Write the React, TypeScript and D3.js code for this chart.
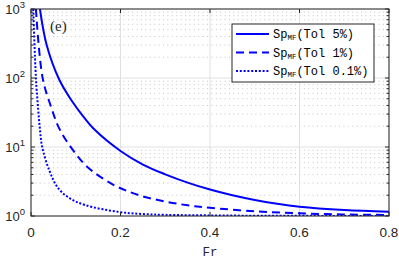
import React from 'react';
import * as d3 from 'd3';

// Fr values and Sp_MF (log axis)
const frSolid = [0.020, 0.035, 0.063, 0.091, 0.117, 0.143, 0.2, 0.25, 0.3, 0.35, 0.4, 0.45, 0.5, 0.55, 0.6, 0.7, 0.8];
const spSolid = [1000, 301, 95.1, 46.7, 27.6, 17.6, 8.76, 5.57, 4.02, 3.05, 2.42, 2.0, 1.71, 1.5, 1.36, 1.22, 1.15];

const frDashed = [0.011, 0.026, 0.046, 0.063, 0.091, 0.128, 0.188, 0.244, 0.3, 0.35, 0.4, 0.5, 0.6, 0.7, 0.8];
const spDashed = [1000, 100, 36.3, 18.6, 9.55, 5.01, 2.75, 1.98, 1.62, 1.43, 1.315, 1.17, 1.094, 1.054, 1.034];

const frDotted = [0.005, 0.011, 0.016, 0.020, 0.025, 0.042, 0.061, 0.087, 0.121, 0.194, 0.247, 0.3, 0.4, 0.5, 0.6, 0.8];
const spDotted = [1000, 100, 35.5, 18, 10, 4.39, 2.52, 1.8, 1.44, 1.15, 1.07, 1.04, 1.02, 1.01, 1.005, 1.0];

const xTicks = [0, 0.2, 0.4, 0.6, 0.8];
const yDecades = [0, 1, 2, 3];
const legendLabels = ['(Tol 5%)', '(Tol 1%)', '(Tol 0.1%)'];
const dashes = ['none', '8,5', '2,1.8'];

const W = 399;
const H = 259;
const left = 31, right = 389, top = 9, bottom = 216;
const axisColor = '#262626';
const blue = '#0000ff';
const mono = '"Liberation Mono", "DejaVu Sans Mono", monospace';
const sans = '"Liberation Sans", Arial, sans-serif';

export default function App() {
  const x = d3.scaleLinear().domain([0, 0.8]).range([left, right]);
  const y = d3.scaleLog().domain([1, 1000]).range([bottom, top]);

  const line = d3.line<[number, number]>()
    .x(d => x(d[0]))
    .y(d => y(d[1]))
    .curve(d3.curveCatmullRom.alpha(0.5));

  const series = [
    d3.zip(frSolid, spSolid) as [number, number][],
    d3.zip(frDashed, spDashed) as [number, number][],
    d3.zip(frDotted, spDotted) as [number, number][],
  ];

  const minor: number[] = [];
  for (let e = 0; e < 3; e++) {
    for (let m = 2; m <= 9; m++) minor.push(m * Math.pow(10, e));
  }

  return (
    <svg width={W} height={H} style={{ position: 'absolute', left: 0, top: 0, background: '#fff' }}>
      <defs>
        <clipPath id="plotArea">
          <rect x={left} y={top} width={right - left} height={bottom - top} />
        </clipPath>
      </defs>

      {/* minor grid (dotted) */}
      {minor.map(v => (
        <line key={'mg' + v} x1={left} x2={right} y1={y(v)} y2={y(v)}
          stroke="#c4c4c4" strokeWidth={1} strokeDasharray="1,3.4" />
      ))}
      {/* major grid */}
      {yDecades.map(e => (
        <line key={'gy' + e} x1={left} x2={right} y1={y(Math.pow(10, e))} y2={y(Math.pow(10, e))}
          stroke="#e0e0e0" strokeWidth={1} />
      ))}
      {xTicks.map(t => (
        <line key={'gx' + t} x1={x(t)} x2={x(t)} y1={top} y2={bottom}
          stroke="#e0e0e0" strokeWidth={1} />
      ))}

      {/* curves */}
      <g clipPath="url(#plotArea)">
        {series.map((s, i) => (
          <path key={'s' + i} d={line(s) || ''} fill="none" stroke={blue} strokeWidth={2}
            strokeDasharray={dashes[i]} />
        ))}
      </g>

      {/* axes box */}
      <rect x={left} y={top} width={right - left} height={bottom - top} fill="none"
        stroke={axisColor} strokeWidth={1} />

      {/* ticks */}
      {xTicks.map(t => (
        <g key={'tx' + t}>
          <line x1={x(t)} x2={x(t)} y1={bottom} y2={bottom - 4} stroke={axisColor} />
          <line x1={x(t)} x2={x(t)} y1={top} y2={top + 4} stroke={axisColor} />
          <text x={x(t)} y={236.5} textAnchor="middle" fontFamily={sans} fontSize={13.5} fill={axisColor}>
            {t === 0 ? '0' : d3.format('.1f')(t)}
          </text>
        </g>
      ))}
      {yDecades.map(e => (
        <g key={'ty' + e}>
          <line x1={left} x2={left + 4} y1={y(Math.pow(10, e))} y2={y(Math.pow(10, e))} stroke={axisColor} />
          <line x1={right} x2={right - 4} y1={y(Math.pow(10, e))} y2={y(Math.pow(10, e))} stroke={axisColor} />
          <text x={25} y={y(Math.pow(10, e)) + 4.5} textAnchor="end" fontFamily={sans} fontSize={13} fill={axisColor}>
            10<tspan fontSize={9.5} dy={-6}>{e}</tspan>
          </text>
        </g>
      ))}
      {minor.map(v => (
        <g key={'mt' + v}>
          <line x1={left} x2={left + 2.5} y1={y(v)} y2={y(v)} stroke={axisColor} />
          <line x1={right} x2={right - 2.5} y1={y(v)} y2={y(v)} stroke={axisColor} />
        </g>
      ))}

      {/* x label */}
      <text x={x(0.4)} y={256} textAnchor="middle" fontFamily={mono} fontSize={12.5} fill={axisColor}>Fr</text>

      {/* panel label */}
      <text x={50} y={31} fontFamily='"Liberation Serif", "Times New Roman", serif' fontSize={15} fill={axisColor}>(e)</text>

      {/* legend */}
      <rect x={232} y={24} width={142} height={58} fill="#fff" stroke={axisColor} strokeWidth={1} />
      {legendLabels.map((lab, i) => {
        const ly = 34 + i * 18.5;
        return (
          <g key={'lg' + i}>
            <line x1={236} x2={269} y1={ly} y2={ly} stroke={blue} strokeWidth={2} strokeDasharray={dashes[i]} />
            <text x={273} y={ly + 4} fontFamily={mono} fontSize={12} fill="#000">
              Sp<tspan fontSize={7.5} dy={2}>MF</tspan><tspan dy={-2}>{lab}</tspan>
            </text>
          </g>
        );
      })}
    </svg>
  );
}
